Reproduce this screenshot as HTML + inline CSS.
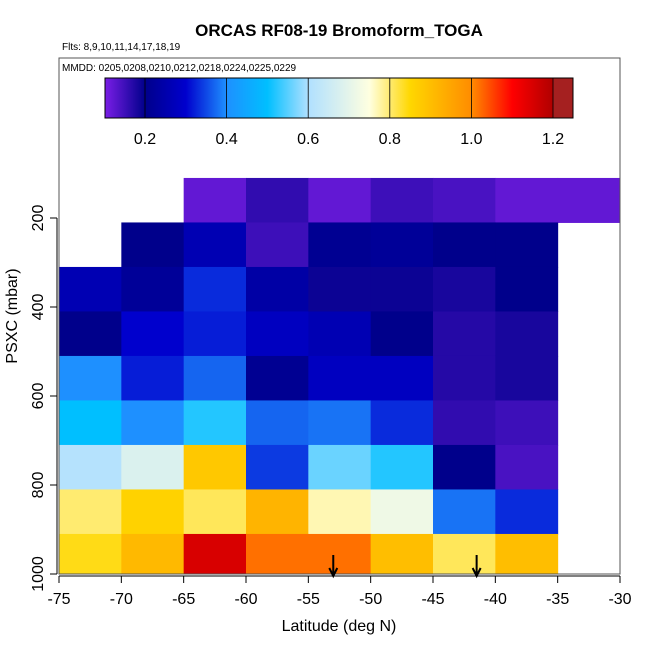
<!DOCTYPE html>
<html><head><meta charset="utf-8"><style>
body{margin:0;background:#fff}
svg{display:block;font-family:"Liberation Sans",sans-serif}
</style></head><body>
<svg id="c" width="650" height="650" xmlns="http://www.w3.org/2000/svg">
<defs><linearGradient id="cg" x1="0" x2="1" y1="0" y2="0"></linearGradient></defs>
<text x="339" y="36" font-size="17" font-weight="bold" text-anchor="middle">ORCAS RF08-19 Bromoform_TOGA</text>
<text x="62" y="50" font-size="10">Flts: 8,9,10,11,14,17,18,19</text>
<g id="cells"></g>
<rect x="59" y="58" width="561" height="516" fill="none" stroke="#555" stroke-width="1"/>
<text x="62" y="71" font-size="10">MMDD: 0205,0208,0210,0212,0218,0224,0225,0229</text>
<rect x="105" y="78" width="468" height="40" fill="url(#cg)" stroke="#000"/>
<g id="cbt"></g>
<g id="ax"></g>
<text x="339" y="631" font-size="16" text-anchor="middle">Latitude (deg N)</text>
<text transform="translate(17,316) rotate(-90)" font-size="16" text-anchor="middle">PSXC (mbar)</text>
</svg>
<script>
const latEdges=[-75,-70,-65,-60,-55,-50,-45,-40,-35,-30];
const presRowTops=[110,210,310,410,510,610,710,810,910];
const cellValues=[
[null,null,0.12,0.16,0.12,0.15,0.14,0.12,0.12],
[null,0.2,0.26,0.15,0.21,0.22,0.2,0.2,null],
[0.26,0.22,0.33,0.24,0.19,0.19,0.18,0.2,null],
[0.2,0.3,0.32,0.28,0.26,0.2,0.17,0.18,null],
[0.4,0.32,0.37,0.21,0.28,0.28,0.17,0.18,null],
[0.5,0.4,0.52,0.37,0.38,0.33,0.16,0.15,null],
[0.61,0.68,0.88,0.34,0.56,0.52,0.2,0.14,null],
[0.8,0.86,0.81,0.92,0.77,0.72,0.38,0.33,null],
[0.84,0.91,1.15,1.02,1.02,0.9,0.81,0.9,null]
];
const xTicks=[-75,-70,-65,-60,-55,-50,-45,-40,-35,-30];
const yTicks=[200,400,600,800,1000];
const cbTicks=[0.2,0.4,0.6,0.8,1.0,1.2];
const arrowLats=[-53,-41.5];
const stops=[[0.1,'#7a1ee6'],[0.2,'#00008b'],[0.3,'#0000cd'],[0.4,'#1e90ff'],[0.5,'#00bfff'],[0.6,'#b0e0ff'],[0.75,'#ffffe0'],[0.85,'#ffd700'],[1.0,'#ff8c00'],[1.1,'#ff0000'],[1.2,'#b00000'],[1.2001,'#a52020'],[1.25,'#a52020']];
const X=v=>59+(v+75)*561/45;
const Y=p=>218+(p-200)*0.445;
const CB=v=>145+(v-0.2)*408;
function hex(c){return [1,3,5].map(i=>parseInt(c.substr(i,2),16));}
function col(v){
 if(v<=stops[0][0])return stops[0][1];
 for(let i=1;i<stops.length;i++){if(v<=stops[i][0]){const[a,ca]=stops[i-1],[b,cb]=stops[i];const t=(v-a)/(b-a);const A=hex(ca),B=hex(cb);return 'rgb('+A.map((x,k)=>Math.round(x+(B[k]-x)*t)).join(',')+')';}}
 return stops[stops.length-1][1];
}
const NS='http://www.w3.org/2000/svg';
function mk(t,a,p){const e=document.createElementNS(NS,t);for(const k in a)e.setAttribute(k,a[k]);p.appendChild(e);return e;}
const g=document.getElementById('cg');
stops.forEach(s=>{const st=mk('stop',{offset:((s[0]-0.102)/(1.249-0.102)*100)+'%','stop-color':s[1]},g);});
const cells=document.getElementById('cells');
cellValues.forEach((row,r)=>row.forEach((v,c)=>{if(v==null)return;
 const y0=Y(presRowTops[r]),y1=Math.min(Y(presRowTops[r]+100),574);
 const e=mk('rect',{x:X(latEdges[c]),y:y0,width:X(latEdges[c+1])-X(latEdges[c])+0.5,height:y1-y0+0.5,fill:col(v)},cells);
 
 
}));
const cbt=document.getElementById('cbt');
cbTicks.forEach(v=>{
 const l=mk('line',{x1:CB(v),x2:CB(v),y1:78,y2:118,stroke:'#000','stroke-width':0.8},cbt);
 
 
 const t=mk('text',{x:CB(v),y:144,'font-size':16,'text-anchor':'middle'},cbt);t.textContent=v.toFixed(1);
 
 
});
const ax=document.getElementById('ax');
mk('line',{x1:59,x2:620,y1:576,y2:576,stroke:'#000'},ax);
mk('line',{x1:57,x2:57,y1:Y(200),y2:Y(1000),stroke:'#000'},ax);
xTicks.forEach(v=>{mk('line',{x1:X(v),x2:X(v),y1:576,y2:583,stroke:'#000'},ax);
 const t=mk('text',{x:X(v),y:604,'font-size':16,'text-anchor':'middle'},ax);t.textContent=v;
 
 });
yTicks.forEach(v=>{mk('line',{x1:50,x2:57,y1:Y(v),y2:Y(v),stroke:'#000'},ax);
 const t=mk('text',{transform:`translate(43,${Y(v)}) rotate(-90)`,'font-size':16,'text-anchor':'middle'},ax);t.textContent=v;
 
 });
arrowLats.forEach(v=>{const x=X(v);
 const a=mk('path',{d:`M${x} 555 L${x} 576 M${x-4} 568 L${x} 576 L${x+4} 568`,stroke:'#000','stroke-width':2,fill:'none'},ax);
 
 });
</script>
</body></html>
